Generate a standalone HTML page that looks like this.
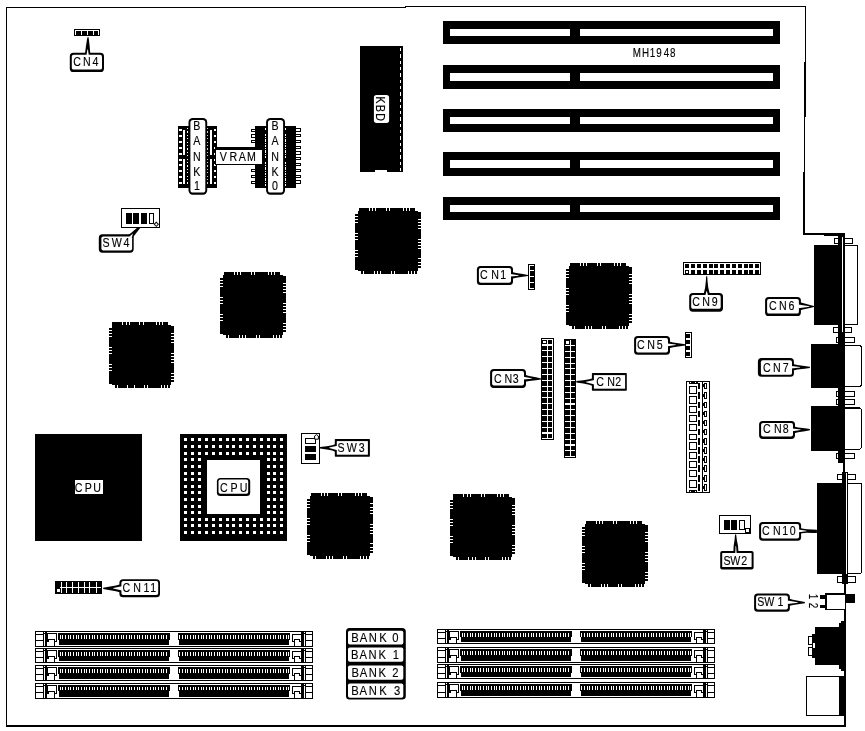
<!DOCTYPE html>
<html lang="en"><head><meta charset="utf-8"><title>MH1948 motherboard layout</title>
<style>html,body{margin:0;padding:0;background:#fff}svg{display:block;will-change:transform}text{font-family:'Liberation Sans', sans-serif;stroke:#000;stroke-width:.14px}.aa{shape-rendering:geometricPrecision}</style>
</head><body>
<svg width="865" height="731" viewBox="0 0 865 731" shape-rendering="crispEdges">
<rect x="0" y="0" width="865" height="731" fill="#fff"/>
<rect x="6" y="7" width="400" height="1.1"/>
<rect x="405" y="6" width="401" height="1.1"/>
<rect x="6" y="7" width="1.3" height="719.9"/>
<rect x="6" y="724.6" width="840.1" height="2.3"/>
<rect x="805" y="6" width="1" height="56"/>
<rect x="804" y="61.8" width="2" height="54.8"/>
<rect x="804" y="116.6" width="1" height="55"/>
<rect x="803" y="171.6" width="2" height="63.2"/>
<rect x="803" y="233.4" width="42" height="1.5"/>
<rect x="824" y="234" width="21" height="2.1"/>
<rect x="443" y="20.8" width="337" height="23.1"/>
<rect x="450" y="28.9" width="120" height="7.3" fill="#fff"/>
<rect x="580" y="28.9" width="193" height="7.3" fill="#fff"/>
<rect x="443" y="65.1" width="337" height="23.5"/>
<rect x="450" y="72.8" width="120" height="8.2" fill="#fff"/>
<rect x="580" y="72.8" width="193" height="8.2" fill="#fff"/>
<rect x="443" y="109.2" width="337" height="23.1"/>
<rect x="450" y="117" width="120" height="7.2" fill="#fff"/>
<rect x="580" y="117" width="193" height="7.2" fill="#fff"/>
<rect x="443" y="152.1" width="337" height="23.7"/>
<rect x="450" y="159.8" width="120" height="7.9" fill="#fff"/>
<rect x="580" y="159.8" width="193" height="7.9" fill="#fff"/>
<rect x="443" y="196.6" width="337" height="23.1"/>
<rect x="450" y="204.9" width="120" height="6.9" fill="#fff"/>
<rect x="580" y="204.9" width="193" height="6.9" fill="#fff"/>
<text transform="translate(636.8 56.8) scale(0.82 1)" x="0 10.73 19.02 27.2 36.22 43.78" font-size="12" text-anchor="middle">MH1948</text>
<rect x="360" y="45.7" width="43.2" height="125.9"/>
<rect x="375" y="169.8" width="12" height="2.2" fill="#fff"/>
<line x1="400.5" y1="48.1" x2="400.5" y2="170.6" stroke="#fff" stroke-width="1.1" stroke-dasharray="3.3 3"/>
<rect x="373.9" y="94.9" width="15.2" height="28" fill="#fff" rx="2.6" class="aa"/>
<text transform="translate(376.1 100.1) rotate(90) scale(0.82 1)" x="0 10.37 20.61" font-size="13" text-anchor="middle">KBD</text>
<g transform="translate(355 207.7)">
<rect x="3.2" y="3.3" width="59.6" height="60"/>
<rect x="3.7" y="0" width="56.2" height="3.4"/>
<rect x="6" y="63.2" width="56.3" height="3.2"/>
<rect x="0" y="6" width="3.3" height="56.2"/>
<rect x="62.7" y="4.3" width="3.3" height="55.7"/>
<rect x="13.8" y="-0.2" width="1" height="3.4" fill="#fff"/>
<rect x="17" y="-0.2" width="1" height="3.4" fill="#fff"/>
<rect x="20.2" y="-0.2" width="1" height="3.4" fill="#fff"/>
<rect x="31.1" y="-0.2" width="1" height="3.4" fill="#fff"/>
<rect x="34.2" y="-0.2" width="1" height="3.4" fill="#fff"/>
<rect x="47.9" y="-0.2" width="1" height="3.4" fill="#fff"/>
<rect x="51" y="-0.2" width="1" height="3.4" fill="#fff"/>
<rect x="54.1" y="-0.2" width="1" height="3.4" fill="#fff"/>
<rect x="8.1" y="63.5" width="1" height="3.1" fill="#fff"/>
<rect x="18.7" y="63.5" width="1" height="3.1" fill="#fff"/>
<rect x="22" y="63.5" width="1" height="3.1" fill="#fff"/>
<rect x="25.1" y="63.5" width="1" height="3.1" fill="#fff"/>
<rect x="36" y="63.5" width="1" height="3.1" fill="#fff"/>
<rect x="39.1" y="63.5" width="1" height="3.1" fill="#fff"/>
<rect x="52.8" y="63.5" width="1" height="3.1" fill="#fff"/>
<rect x="55.9" y="63.5" width="1" height="3.1" fill="#fff"/>
<rect x="59" y="63.5" width="1" height="3.1" fill="#fff"/>
<rect x="-0.2" y="8.4" width="3.2" height="1" fill="#fff"/>
<rect x="-0.2" y="11.4" width="3.2" height="1" fill="#fff"/>
<rect x="-0.2" y="14.5" width="3.2" height="1" fill="#fff"/>
<rect x="-0.2" y="25.2" width="3.2" height="1" fill="#fff"/>
<rect x="-0.2" y="28.3" width="3.2" height="1" fill="#fff"/>
<rect x="-0.2" y="31.4" width="3.2" height="1" fill="#fff"/>
<rect x="-0.2" y="42.2" width="3.2" height="1" fill="#fff"/>
<rect x="-0.2" y="45.3" width="3.2" height="1" fill="#fff"/>
<rect x="-0.2" y="48.4" width="3.2" height="1" fill="#fff"/>
<rect x="63.1" y="10.8" width="3.1" height="1" fill="#fff"/>
<rect x="63.1" y="14" width="3.1" height="1" fill="#fff"/>
<rect x="63.1" y="17" width="3.1" height="1" fill="#fff"/>
<rect x="63.1" y="20.1" width="3.1" height="1" fill="#fff"/>
<rect x="63.1" y="31.1" width="3.1" height="1" fill="#fff"/>
<rect x="63.1" y="34.2" width="3.1" height="1" fill="#fff"/>
<rect x="63.1" y="37.1" width="3.1" height="1" fill="#fff"/>
<rect x="63.1" y="40" width="3.1" height="1" fill="#fff"/>
<rect x="63.1" y="50.8" width="3.1" height="1" fill="#fff"/>
<rect x="63.1" y="53.9" width="3.1" height="1" fill="#fff"/>
<rect x="63.1" y="57" width="3.1" height="1" fill="#fff"/>
</g>
<g transform="translate(219.8 271.7) scale(1.0030 1)">
<rect x="3.2" y="3.3" width="59.6" height="60"/>
<rect x="3.7" y="0" width="56.2" height="3.4"/>
<rect x="6" y="63.2" width="56.3" height="3.2"/>
<rect x="0" y="6" width="3.3" height="56.2"/>
<rect x="62.7" y="4.3" width="3.3" height="55.7"/>
<rect x="13.8" y="-0.2" width="1" height="3.4" fill="#fff"/>
<rect x="17" y="-0.2" width="1" height="3.4" fill="#fff"/>
<rect x="20.2" y="-0.2" width="1" height="3.4" fill="#fff"/>
<rect x="31.1" y="-0.2" width="1" height="3.4" fill="#fff"/>
<rect x="34.2" y="-0.2" width="1" height="3.4" fill="#fff"/>
<rect x="47.9" y="-0.2" width="1" height="3.4" fill="#fff"/>
<rect x="51" y="-0.2" width="1" height="3.4" fill="#fff"/>
<rect x="54.1" y="-0.2" width="1" height="3.4" fill="#fff"/>
<rect x="8.1" y="63.5" width="1" height="3.1" fill="#fff"/>
<rect x="18.7" y="63.5" width="1" height="3.1" fill="#fff"/>
<rect x="22" y="63.5" width="1" height="3.1" fill="#fff"/>
<rect x="25.1" y="63.5" width="1" height="3.1" fill="#fff"/>
<rect x="36" y="63.5" width="1" height="3.1" fill="#fff"/>
<rect x="39.1" y="63.5" width="1" height="3.1" fill="#fff"/>
<rect x="52.8" y="63.5" width="1" height="3.1" fill="#fff"/>
<rect x="55.9" y="63.5" width="1" height="3.1" fill="#fff"/>
<rect x="59" y="63.5" width="1" height="3.1" fill="#fff"/>
<rect x="-0.2" y="8.4" width="3.2" height="1" fill="#fff"/>
<rect x="-0.2" y="11.4" width="3.2" height="1" fill="#fff"/>
<rect x="-0.2" y="14.5" width="3.2" height="1" fill="#fff"/>
<rect x="-0.2" y="25.2" width="3.2" height="1" fill="#fff"/>
<rect x="-0.2" y="28.3" width="3.2" height="1" fill="#fff"/>
<rect x="-0.2" y="31.4" width="3.2" height="1" fill="#fff"/>
<rect x="-0.2" y="42.2" width="3.2" height="1" fill="#fff"/>
<rect x="-0.2" y="45.3" width="3.2" height="1" fill="#fff"/>
<rect x="-0.2" y="48.4" width="3.2" height="1" fill="#fff"/>
<rect x="63.1" y="10.8" width="3.1" height="1" fill="#fff"/>
<rect x="63.1" y="14" width="3.1" height="1" fill="#fff"/>
<rect x="63.1" y="17" width="3.1" height="1" fill="#fff"/>
<rect x="63.1" y="20.1" width="3.1" height="1" fill="#fff"/>
<rect x="63.1" y="31.1" width="3.1" height="1" fill="#fff"/>
<rect x="63.1" y="34.2" width="3.1" height="1" fill="#fff"/>
<rect x="63.1" y="37.1" width="3.1" height="1" fill="#fff"/>
<rect x="63.1" y="40" width="3.1" height="1" fill="#fff"/>
<rect x="63.1" y="50.8" width="3.1" height="1" fill="#fff"/>
<rect x="63.1" y="53.9" width="3.1" height="1" fill="#fff"/>
<rect x="63.1" y="57" width="3.1" height="1" fill="#fff"/>
</g>
<g transform="translate(108.8 321.7) scale(0.9864 1)">
<rect x="3.2" y="3.3" width="59.6" height="60"/>
<rect x="3.7" y="0" width="56.2" height="3.4"/>
<rect x="6" y="63.2" width="56.3" height="3.2"/>
<rect x="0" y="6" width="3.3" height="56.2"/>
<rect x="62.7" y="4.3" width="3.3" height="55.7"/>
<rect x="13.8" y="-0.2" width="1" height="3.4" fill="#fff"/>
<rect x="17" y="-0.2" width="1" height="3.4" fill="#fff"/>
<rect x="20.2" y="-0.2" width="1" height="3.4" fill="#fff"/>
<rect x="31.1" y="-0.2" width="1" height="3.4" fill="#fff"/>
<rect x="34.2" y="-0.2" width="1" height="3.4" fill="#fff"/>
<rect x="47.9" y="-0.2" width="1" height="3.4" fill="#fff"/>
<rect x="51" y="-0.2" width="1" height="3.4" fill="#fff"/>
<rect x="54.1" y="-0.2" width="1" height="3.4" fill="#fff"/>
<rect x="8.1" y="63.5" width="1" height="3.1" fill="#fff"/>
<rect x="18.7" y="63.5" width="1" height="3.1" fill="#fff"/>
<rect x="22" y="63.5" width="1" height="3.1" fill="#fff"/>
<rect x="25.1" y="63.5" width="1" height="3.1" fill="#fff"/>
<rect x="36" y="63.5" width="1" height="3.1" fill="#fff"/>
<rect x="39.1" y="63.5" width="1" height="3.1" fill="#fff"/>
<rect x="52.8" y="63.5" width="1" height="3.1" fill="#fff"/>
<rect x="55.9" y="63.5" width="1" height="3.1" fill="#fff"/>
<rect x="59" y="63.5" width="1" height="3.1" fill="#fff"/>
<rect x="-0.2" y="8.4" width="3.2" height="1" fill="#fff"/>
<rect x="-0.2" y="11.4" width="3.2" height="1" fill="#fff"/>
<rect x="-0.2" y="14.5" width="3.2" height="1" fill="#fff"/>
<rect x="-0.2" y="25.2" width="3.2" height="1" fill="#fff"/>
<rect x="-0.2" y="28.3" width="3.2" height="1" fill="#fff"/>
<rect x="-0.2" y="31.4" width="3.2" height="1" fill="#fff"/>
<rect x="-0.2" y="42.2" width="3.2" height="1" fill="#fff"/>
<rect x="-0.2" y="45.3" width="3.2" height="1" fill="#fff"/>
<rect x="-0.2" y="48.4" width="3.2" height="1" fill="#fff"/>
<rect x="63.1" y="10.8" width="3.1" height="1" fill="#fff"/>
<rect x="63.1" y="14" width="3.1" height="1" fill="#fff"/>
<rect x="63.1" y="17" width="3.1" height="1" fill="#fff"/>
<rect x="63.1" y="20.1" width="3.1" height="1" fill="#fff"/>
<rect x="63.1" y="31.1" width="3.1" height="1" fill="#fff"/>
<rect x="63.1" y="34.2" width="3.1" height="1" fill="#fff"/>
<rect x="63.1" y="37.1" width="3.1" height="1" fill="#fff"/>
<rect x="63.1" y="40" width="3.1" height="1" fill="#fff"/>
<rect x="63.1" y="50.8" width="3.1" height="1" fill="#fff"/>
<rect x="63.1" y="53.9" width="3.1" height="1" fill="#fff"/>
<rect x="63.1" y="57" width="3.1" height="1" fill="#fff"/>
</g>
<g transform="translate(566 262.9)">
<rect x="3.2" y="3.3" width="59.6" height="60"/>
<rect x="3.7" y="0" width="56.2" height="3.4"/>
<rect x="6" y="63.2" width="56.3" height="3.2"/>
<rect x="0" y="6" width="3.3" height="56.2"/>
<rect x="62.7" y="4.3" width="3.3" height="55.7"/>
<rect x="13.8" y="-0.2" width="1" height="3.4" fill="#fff"/>
<rect x="17" y="-0.2" width="1" height="3.4" fill="#fff"/>
<rect x="20.2" y="-0.2" width="1" height="3.4" fill="#fff"/>
<rect x="31.1" y="-0.2" width="1" height="3.4" fill="#fff"/>
<rect x="34.2" y="-0.2" width="1" height="3.4" fill="#fff"/>
<rect x="47.9" y="-0.2" width="1" height="3.4" fill="#fff"/>
<rect x="51" y="-0.2" width="1" height="3.4" fill="#fff"/>
<rect x="54.1" y="-0.2" width="1" height="3.4" fill="#fff"/>
<rect x="8.1" y="63.5" width="1" height="3.1" fill="#fff"/>
<rect x="18.7" y="63.5" width="1" height="3.1" fill="#fff"/>
<rect x="22" y="63.5" width="1" height="3.1" fill="#fff"/>
<rect x="25.1" y="63.5" width="1" height="3.1" fill="#fff"/>
<rect x="36" y="63.5" width="1" height="3.1" fill="#fff"/>
<rect x="39.1" y="63.5" width="1" height="3.1" fill="#fff"/>
<rect x="52.8" y="63.5" width="1" height="3.1" fill="#fff"/>
<rect x="55.9" y="63.5" width="1" height="3.1" fill="#fff"/>
<rect x="59" y="63.5" width="1" height="3.1" fill="#fff"/>
<rect x="-0.2" y="8.4" width="3.2" height="1" fill="#fff"/>
<rect x="-0.2" y="11.4" width="3.2" height="1" fill="#fff"/>
<rect x="-0.2" y="14.5" width="3.2" height="1" fill="#fff"/>
<rect x="-0.2" y="25.2" width="3.2" height="1" fill="#fff"/>
<rect x="-0.2" y="28.3" width="3.2" height="1" fill="#fff"/>
<rect x="-0.2" y="31.4" width="3.2" height="1" fill="#fff"/>
<rect x="-0.2" y="42.2" width="3.2" height="1" fill="#fff"/>
<rect x="-0.2" y="45.3" width="3.2" height="1" fill="#fff"/>
<rect x="-0.2" y="48.4" width="3.2" height="1" fill="#fff"/>
<rect x="63.1" y="10.8" width="3.1" height="1" fill="#fff"/>
<rect x="63.1" y="14" width="3.1" height="1" fill="#fff"/>
<rect x="63.1" y="17" width="3.1" height="1" fill="#fff"/>
<rect x="63.1" y="20.1" width="3.1" height="1" fill="#fff"/>
<rect x="63.1" y="31.1" width="3.1" height="1" fill="#fff"/>
<rect x="63.1" y="34.2" width="3.1" height="1" fill="#fff"/>
<rect x="63.1" y="37.1" width="3.1" height="1" fill="#fff"/>
<rect x="63.1" y="40" width="3.1" height="1" fill="#fff"/>
<rect x="63.1" y="50.8" width="3.1" height="1" fill="#fff"/>
<rect x="63.1" y="53.9" width="3.1" height="1" fill="#fff"/>
<rect x="63.1" y="57" width="3.1" height="1" fill="#fff"/>
</g>
<g transform="translate(306.9 492.6) scale(1.0030 1)">
<rect x="3.2" y="3.3" width="59.6" height="60"/>
<rect x="3.7" y="0" width="56.2" height="3.4"/>
<rect x="6" y="63.2" width="56.3" height="3.2"/>
<rect x="0" y="6" width="3.3" height="56.2"/>
<rect x="62.7" y="4.3" width="3.3" height="55.7"/>
<rect x="13.8" y="-0.2" width="1" height="3.4" fill="#fff"/>
<rect x="17" y="-0.2" width="1" height="3.4" fill="#fff"/>
<rect x="20.2" y="-0.2" width="1" height="3.4" fill="#fff"/>
<rect x="31.1" y="-0.2" width="1" height="3.4" fill="#fff"/>
<rect x="34.2" y="-0.2" width="1" height="3.4" fill="#fff"/>
<rect x="47.9" y="-0.2" width="1" height="3.4" fill="#fff"/>
<rect x="51" y="-0.2" width="1" height="3.4" fill="#fff"/>
<rect x="54.1" y="-0.2" width="1" height="3.4" fill="#fff"/>
<rect x="8.1" y="63.5" width="1" height="3.1" fill="#fff"/>
<rect x="18.7" y="63.5" width="1" height="3.1" fill="#fff"/>
<rect x="22" y="63.5" width="1" height="3.1" fill="#fff"/>
<rect x="25.1" y="63.5" width="1" height="3.1" fill="#fff"/>
<rect x="36" y="63.5" width="1" height="3.1" fill="#fff"/>
<rect x="39.1" y="63.5" width="1" height="3.1" fill="#fff"/>
<rect x="52.8" y="63.5" width="1" height="3.1" fill="#fff"/>
<rect x="55.9" y="63.5" width="1" height="3.1" fill="#fff"/>
<rect x="59" y="63.5" width="1" height="3.1" fill="#fff"/>
<rect x="-0.2" y="8.4" width="3.2" height="1" fill="#fff"/>
<rect x="-0.2" y="11.4" width="3.2" height="1" fill="#fff"/>
<rect x="-0.2" y="14.5" width="3.2" height="1" fill="#fff"/>
<rect x="-0.2" y="25.2" width="3.2" height="1" fill="#fff"/>
<rect x="-0.2" y="28.3" width="3.2" height="1" fill="#fff"/>
<rect x="-0.2" y="31.4" width="3.2" height="1" fill="#fff"/>
<rect x="-0.2" y="42.2" width="3.2" height="1" fill="#fff"/>
<rect x="-0.2" y="45.3" width="3.2" height="1" fill="#fff"/>
<rect x="-0.2" y="48.4" width="3.2" height="1" fill="#fff"/>
<rect x="63.1" y="10.8" width="3.1" height="1" fill="#fff"/>
<rect x="63.1" y="14" width="3.1" height="1" fill="#fff"/>
<rect x="63.1" y="17" width="3.1" height="1" fill="#fff"/>
<rect x="63.1" y="20.1" width="3.1" height="1" fill="#fff"/>
<rect x="63.1" y="31.1" width="3.1" height="1" fill="#fff"/>
<rect x="63.1" y="34.2" width="3.1" height="1" fill="#fff"/>
<rect x="63.1" y="37.1" width="3.1" height="1" fill="#fff"/>
<rect x="63.1" y="40" width="3.1" height="1" fill="#fff"/>
<rect x="63.1" y="50.8" width="3.1" height="1" fill="#fff"/>
<rect x="63.1" y="53.9" width="3.1" height="1" fill="#fff"/>
<rect x="63.1" y="57" width="3.1" height="1" fill="#fff"/>
</g>
<g transform="translate(449.8 493.7) scale(0.9879 1)">
<rect x="3.2" y="3.3" width="59.6" height="60"/>
<rect x="3.7" y="0" width="56.2" height="3.4"/>
<rect x="6" y="63.2" width="56.3" height="3.2"/>
<rect x="0" y="6" width="3.3" height="56.2"/>
<rect x="62.7" y="4.3" width="3.3" height="55.7"/>
<rect x="13.8" y="-0.2" width="1" height="3.4" fill="#fff"/>
<rect x="17" y="-0.2" width="1" height="3.4" fill="#fff"/>
<rect x="20.2" y="-0.2" width="1" height="3.4" fill="#fff"/>
<rect x="31.1" y="-0.2" width="1" height="3.4" fill="#fff"/>
<rect x="34.2" y="-0.2" width="1" height="3.4" fill="#fff"/>
<rect x="47.9" y="-0.2" width="1" height="3.4" fill="#fff"/>
<rect x="51" y="-0.2" width="1" height="3.4" fill="#fff"/>
<rect x="54.1" y="-0.2" width="1" height="3.4" fill="#fff"/>
<rect x="8.1" y="63.5" width="1" height="3.1" fill="#fff"/>
<rect x="18.7" y="63.5" width="1" height="3.1" fill="#fff"/>
<rect x="22" y="63.5" width="1" height="3.1" fill="#fff"/>
<rect x="25.1" y="63.5" width="1" height="3.1" fill="#fff"/>
<rect x="36" y="63.5" width="1" height="3.1" fill="#fff"/>
<rect x="39.1" y="63.5" width="1" height="3.1" fill="#fff"/>
<rect x="52.8" y="63.5" width="1" height="3.1" fill="#fff"/>
<rect x="55.9" y="63.5" width="1" height="3.1" fill="#fff"/>
<rect x="59" y="63.5" width="1" height="3.1" fill="#fff"/>
<rect x="-0.2" y="8.4" width="3.2" height="1" fill="#fff"/>
<rect x="-0.2" y="11.4" width="3.2" height="1" fill="#fff"/>
<rect x="-0.2" y="14.5" width="3.2" height="1" fill="#fff"/>
<rect x="-0.2" y="25.2" width="3.2" height="1" fill="#fff"/>
<rect x="-0.2" y="28.3" width="3.2" height="1" fill="#fff"/>
<rect x="-0.2" y="31.4" width="3.2" height="1" fill="#fff"/>
<rect x="-0.2" y="42.2" width="3.2" height="1" fill="#fff"/>
<rect x="-0.2" y="45.3" width="3.2" height="1" fill="#fff"/>
<rect x="-0.2" y="48.4" width="3.2" height="1" fill="#fff"/>
<rect x="63.1" y="10.8" width="3.1" height="1" fill="#fff"/>
<rect x="63.1" y="14" width="3.1" height="1" fill="#fff"/>
<rect x="63.1" y="17" width="3.1" height="1" fill="#fff"/>
<rect x="63.1" y="20.1" width="3.1" height="1" fill="#fff"/>
<rect x="63.1" y="31.1" width="3.1" height="1" fill="#fff"/>
<rect x="63.1" y="34.2" width="3.1" height="1" fill="#fff"/>
<rect x="63.1" y="37.1" width="3.1" height="1" fill="#fff"/>
<rect x="63.1" y="40" width="3.1" height="1" fill="#fff"/>
<rect x="63.1" y="50.8" width="3.1" height="1" fill="#fff"/>
<rect x="63.1" y="53.9" width="3.1" height="1" fill="#fff"/>
<rect x="63.1" y="57" width="3.1" height="1" fill="#fff"/>
</g>
<g transform="translate(582 520.7) scale(1.0015 1)">
<rect x="3.2" y="3.3" width="59.6" height="60"/>
<rect x="3.7" y="0" width="56.2" height="3.4"/>
<rect x="6" y="63.2" width="56.3" height="3.2"/>
<rect x="0" y="6" width="3.3" height="56.2"/>
<rect x="62.7" y="4.3" width="3.3" height="55.7"/>
<rect x="13.8" y="-0.2" width="1" height="3.4" fill="#fff"/>
<rect x="17" y="-0.2" width="1" height="3.4" fill="#fff"/>
<rect x="20.2" y="-0.2" width="1" height="3.4" fill="#fff"/>
<rect x="31.1" y="-0.2" width="1" height="3.4" fill="#fff"/>
<rect x="34.2" y="-0.2" width="1" height="3.4" fill="#fff"/>
<rect x="47.9" y="-0.2" width="1" height="3.4" fill="#fff"/>
<rect x="51" y="-0.2" width="1" height="3.4" fill="#fff"/>
<rect x="54.1" y="-0.2" width="1" height="3.4" fill="#fff"/>
<rect x="8.1" y="63.5" width="1" height="3.1" fill="#fff"/>
<rect x="18.7" y="63.5" width="1" height="3.1" fill="#fff"/>
<rect x="22" y="63.5" width="1" height="3.1" fill="#fff"/>
<rect x="25.1" y="63.5" width="1" height="3.1" fill="#fff"/>
<rect x="36" y="63.5" width="1" height="3.1" fill="#fff"/>
<rect x="39.1" y="63.5" width="1" height="3.1" fill="#fff"/>
<rect x="52.8" y="63.5" width="1" height="3.1" fill="#fff"/>
<rect x="55.9" y="63.5" width="1" height="3.1" fill="#fff"/>
<rect x="59" y="63.5" width="1" height="3.1" fill="#fff"/>
<rect x="-0.2" y="8.4" width="3.2" height="1" fill="#fff"/>
<rect x="-0.2" y="11.4" width="3.2" height="1" fill="#fff"/>
<rect x="-0.2" y="14.5" width="3.2" height="1" fill="#fff"/>
<rect x="-0.2" y="25.2" width="3.2" height="1" fill="#fff"/>
<rect x="-0.2" y="28.3" width="3.2" height="1" fill="#fff"/>
<rect x="-0.2" y="31.4" width="3.2" height="1" fill="#fff"/>
<rect x="-0.2" y="42.2" width="3.2" height="1" fill="#fff"/>
<rect x="-0.2" y="45.3" width="3.2" height="1" fill="#fff"/>
<rect x="-0.2" y="48.4" width="3.2" height="1" fill="#fff"/>
<rect x="63.1" y="10.8" width="3.1" height="1" fill="#fff"/>
<rect x="63.1" y="14" width="3.1" height="1" fill="#fff"/>
<rect x="63.1" y="17" width="3.1" height="1" fill="#fff"/>
<rect x="63.1" y="20.1" width="3.1" height="1" fill="#fff"/>
<rect x="63.1" y="31.1" width="3.1" height="1" fill="#fff"/>
<rect x="63.1" y="34.2" width="3.1" height="1" fill="#fff"/>
<rect x="63.1" y="37.1" width="3.1" height="1" fill="#fff"/>
<rect x="63.1" y="40" width="3.1" height="1" fill="#fff"/>
<rect x="63.1" y="50.8" width="3.1" height="1" fill="#fff"/>
<rect x="63.1" y="53.9" width="3.1" height="1" fill="#fff"/>
<rect x="63.1" y="57" width="3.1" height="1" fill="#fff"/>
</g>
<rect x="35" y="433.8" width="106.8" height="106.7"/>
<rect x="74.9" y="479.8" width="28.1" height="14.3" fill="#fff"/>
<text transform="translate(78.6 491.8) scale(0.82 1)" x="0 11.71 22.56" font-size="13" text-anchor="middle">CPU</text>
<rect x="179.8" y="434.1" width="107.4" height="106.8"/>
<rect x="207" y="460" width="53" height="53.8" fill="#fff"/>
<rect x="184" y="438" width="3" height="3" fill="#fff"/>
<rect x="191" y="438" width="3" height="3" fill="#fff"/>
<rect x="198" y="438" width="3" height="3" fill="#fff"/>
<rect x="205" y="438" width="3" height="3" fill="#fff"/>
<rect x="212" y="438" width="3" height="3" fill="#fff"/>
<rect x="219" y="438" width="3" height="3" fill="#fff"/>
<rect x="226" y="438" width="3" height="3" fill="#fff"/>
<rect x="232" y="438" width="3" height="3" fill="#fff"/>
<rect x="239" y="438" width="3" height="3" fill="#fff"/>
<rect x="246" y="438" width="3" height="3" fill="#fff"/>
<rect x="253" y="438" width="3" height="3" fill="#fff"/>
<rect x="260" y="438" width="3" height="3" fill="#fff"/>
<rect x="267" y="438" width="3" height="3" fill="#fff"/>
<rect x="273" y="438" width="3" height="3" fill="#fff"/>
<rect x="280" y="438" width="3" height="3" fill="#fff"/>
<rect x="184" y="445" width="3" height="3" fill="#fff"/>
<rect x="191" y="445" width="3" height="3" fill="#fff"/>
<rect x="198" y="445" width="3" height="3" fill="#fff"/>
<rect x="205" y="445" width="3" height="3" fill="#fff"/>
<rect x="212" y="445" width="3" height="3" fill="#fff"/>
<rect x="219" y="445" width="3" height="3" fill="#fff"/>
<rect x="226" y="445" width="3" height="3" fill="#fff"/>
<rect x="232" y="445" width="3" height="3" fill="#fff"/>
<rect x="239" y="445" width="3" height="3" fill="#fff"/>
<rect x="246" y="445" width="3" height="3" fill="#fff"/>
<rect x="253" y="445" width="3" height="3" fill="#fff"/>
<rect x="260" y="445" width="3" height="3" fill="#fff"/>
<rect x="267" y="445" width="3" height="3" fill="#fff"/>
<rect x="273" y="445" width="3" height="3" fill="#fff"/>
<rect x="280" y="445" width="3" height="3" fill="#fff"/>
<rect x="184" y="452" width="3" height="3" fill="#fff"/>
<rect x="191" y="452" width="3" height="3" fill="#fff"/>
<rect x="198" y="452" width="3" height="3" fill="#fff"/>
<rect x="205" y="452" width="3" height="3" fill="#fff"/>
<rect x="212" y="452" width="3" height="3" fill="#fff"/>
<rect x="219" y="452" width="3" height="3" fill="#fff"/>
<rect x="226" y="452" width="3" height="3" fill="#fff"/>
<rect x="232" y="452" width="3" height="3" fill="#fff"/>
<rect x="239" y="452" width="3" height="3" fill="#fff"/>
<rect x="246" y="452" width="3" height="3" fill="#fff"/>
<rect x="253" y="452" width="3" height="3" fill="#fff"/>
<rect x="260" y="452" width="3" height="3" fill="#fff"/>
<rect x="267" y="452" width="3" height="3" fill="#fff"/>
<rect x="273" y="452" width="3" height="3" fill="#fff"/>
<rect x="280" y="452" width="3" height="3" fill="#fff"/>
<rect x="184" y="458" width="3" height="3" fill="#fff"/>
<rect x="191" y="458" width="3" height="3" fill="#fff"/>
<rect x="198" y="458" width="3" height="3" fill="#fff"/>
<rect x="267" y="458" width="3" height="3" fill="#fff"/>
<rect x="273" y="458" width="3" height="3" fill="#fff"/>
<rect x="280" y="458" width="3" height="3" fill="#fff"/>
<rect x="184" y="465" width="3" height="3" fill="#fff"/>
<rect x="191" y="465" width="3" height="3" fill="#fff"/>
<rect x="198" y="465" width="3" height="3" fill="#fff"/>
<rect x="267" y="465" width="3" height="3" fill="#fff"/>
<rect x="273" y="465" width="3" height="3" fill="#fff"/>
<rect x="280" y="465" width="3" height="3" fill="#fff"/>
<rect x="184" y="472" width="3" height="3" fill="#fff"/>
<rect x="191" y="472" width="3" height="3" fill="#fff"/>
<rect x="198" y="472" width="3" height="3" fill="#fff"/>
<rect x="267" y="472" width="3" height="3" fill="#fff"/>
<rect x="273" y="472" width="3" height="3" fill="#fff"/>
<rect x="280" y="472" width="3" height="3" fill="#fff"/>
<rect x="184" y="478" width="3" height="3" fill="#fff"/>
<rect x="191" y="478" width="3" height="3" fill="#fff"/>
<rect x="198" y="478" width="3" height="3" fill="#fff"/>
<rect x="267" y="478" width="3" height="3" fill="#fff"/>
<rect x="273" y="478" width="3" height="3" fill="#fff"/>
<rect x="280" y="478" width="3" height="3" fill="#fff"/>
<rect x="184" y="485" width="3" height="3" fill="#fff"/>
<rect x="191" y="485" width="3" height="3" fill="#fff"/>
<rect x="198" y="485" width="3" height="3" fill="#fff"/>
<rect x="267" y="485" width="3" height="3" fill="#fff"/>
<rect x="273" y="485" width="3" height="3" fill="#fff"/>
<rect x="280" y="485" width="3" height="3" fill="#fff"/>
<rect x="184" y="491" width="3" height="3" fill="#fff"/>
<rect x="191" y="491" width="3" height="3" fill="#fff"/>
<rect x="198" y="491" width="3" height="3" fill="#fff"/>
<rect x="267" y="491" width="3" height="3" fill="#fff"/>
<rect x="273" y="491" width="3" height="3" fill="#fff"/>
<rect x="280" y="491" width="3" height="3" fill="#fff"/>
<rect x="184" y="498" width="3" height="3" fill="#fff"/>
<rect x="191" y="498" width="3" height="3" fill="#fff"/>
<rect x="198" y="498" width="3" height="3" fill="#fff"/>
<rect x="267" y="498" width="3" height="3" fill="#fff"/>
<rect x="273" y="498" width="3" height="3" fill="#fff"/>
<rect x="280" y="498" width="3" height="3" fill="#fff"/>
<rect x="184" y="505" width="3" height="3" fill="#fff"/>
<rect x="191" y="505" width="3" height="3" fill="#fff"/>
<rect x="198" y="505" width="3" height="3" fill="#fff"/>
<rect x="267" y="505" width="3" height="3" fill="#fff"/>
<rect x="273" y="505" width="3" height="3" fill="#fff"/>
<rect x="280" y="505" width="3" height="3" fill="#fff"/>
<rect x="184" y="511" width="3" height="3" fill="#fff"/>
<rect x="191" y="511" width="3" height="3" fill="#fff"/>
<rect x="198" y="511" width="3" height="3" fill="#fff"/>
<rect x="267" y="511" width="3" height="3" fill="#fff"/>
<rect x="273" y="511" width="3" height="3" fill="#fff"/>
<rect x="280" y="511" width="3" height="3" fill="#fff"/>
<rect x="184" y="518" width="3" height="3" fill="#fff"/>
<rect x="191" y="518" width="3" height="3" fill="#fff"/>
<rect x="198" y="518" width="3" height="3" fill="#fff"/>
<rect x="205" y="518" width="3" height="3" fill="#fff"/>
<rect x="212" y="518" width="3" height="3" fill="#fff"/>
<rect x="219" y="518" width="3" height="3" fill="#fff"/>
<rect x="226" y="518" width="3" height="3" fill="#fff"/>
<rect x="232" y="518" width="3" height="3" fill="#fff"/>
<rect x="239" y="518" width="3" height="3" fill="#fff"/>
<rect x="246" y="518" width="3" height="3" fill="#fff"/>
<rect x="253" y="518" width="3" height="3" fill="#fff"/>
<rect x="260" y="518" width="3" height="3" fill="#fff"/>
<rect x="267" y="518" width="3" height="3" fill="#fff"/>
<rect x="273" y="518" width="3" height="3" fill="#fff"/>
<rect x="280" y="518" width="3" height="3" fill="#fff"/>
<rect x="184" y="524" width="3" height="3" fill="#fff"/>
<rect x="191" y="524" width="3" height="3" fill="#fff"/>
<rect x="198" y="524" width="3" height="3" fill="#fff"/>
<rect x="205" y="524" width="3" height="3" fill="#fff"/>
<rect x="212" y="524" width="3" height="3" fill="#fff"/>
<rect x="219" y="524" width="3" height="3" fill="#fff"/>
<rect x="226" y="524" width="3" height="3" fill="#fff"/>
<rect x="232" y="524" width="3" height="3" fill="#fff"/>
<rect x="239" y="524" width="3" height="3" fill="#fff"/>
<rect x="246" y="524" width="3" height="3" fill="#fff"/>
<rect x="253" y="524" width="3" height="3" fill="#fff"/>
<rect x="260" y="524" width="3" height="3" fill="#fff"/>
<rect x="267" y="524" width="3" height="3" fill="#fff"/>
<rect x="273" y="524" width="3" height="3" fill="#fff"/>
<rect x="280" y="524" width="3" height="3" fill="#fff"/>
<rect x="184" y="531" width="3" height="3" fill="#fff"/>
<rect x="191" y="531" width="3" height="3" fill="#fff"/>
<rect x="198" y="531" width="3" height="3" fill="#fff"/>
<rect x="205" y="531" width="3" height="3" fill="#fff"/>
<rect x="212" y="531" width="3" height="3" fill="#fff"/>
<rect x="219" y="531" width="3" height="3" fill="#fff"/>
<rect x="226" y="531" width="3" height="3" fill="#fff"/>
<rect x="232" y="531" width="3" height="3" fill="#fff"/>
<rect x="239" y="531" width="3" height="3" fill="#fff"/>
<rect x="246" y="531" width="3" height="3" fill="#fff"/>
<rect x="253" y="531" width="3" height="3" fill="#fff"/>
<rect x="260" y="531" width="3" height="3" fill="#fff"/>
<rect x="267" y="531" width="3" height="3" fill="#fff"/>
<rect x="273" y="531" width="3" height="3" fill="#fff"/>
<rect x="280" y="531" width="3" height="3" fill="#fff"/>
<rect x="216.9" y="478" width="33.3" height="18.1" rx="3.6" class="aa"/>
<rect x="218.5" y="479.6" width="29.7" height="14.1" fill="#fff" rx="1.9" class="aa"/>
<text transform="translate(223.9 491.7) scale(0.82 1)" x="0 12.44 23.9" font-size="13" text-anchor="middle">CPU</text>
<rect x="177.9" y="125.9" width="39.3" height="61.9"/>
<rect x="179.2" y="129" width="2.6" height="2" fill="#fff"/>
<rect x="213.6" y="129" width="2.6" height="2" fill="#fff"/>
<rect x="179.2" y="134.9" width="2.6" height="2" fill="#fff"/>
<rect x="213.6" y="134.9" width="2.6" height="2" fill="#fff"/>
<rect x="179.2" y="140.8" width="2.6" height="2" fill="#fff"/>
<rect x="213.6" y="140.8" width="2.6" height="2" fill="#fff"/>
<rect x="179.2" y="146.7" width="2.6" height="2" fill="#fff"/>
<rect x="213.6" y="146.7" width="2.6" height="2" fill="#fff"/>
<rect x="179.2" y="152.6" width="2.6" height="2" fill="#fff"/>
<rect x="213.6" y="152.6" width="2.6" height="2" fill="#fff"/>
<rect x="179.2" y="158.5" width="2.6" height="2" fill="#fff"/>
<rect x="213.6" y="158.5" width="2.6" height="2" fill="#fff"/>
<rect x="179.2" y="164.4" width="2.6" height="2" fill="#fff"/>
<rect x="213.6" y="164.4" width="2.6" height="2" fill="#fff"/>
<rect x="179.2" y="170.3" width="2.6" height="2" fill="#fff"/>
<rect x="213.6" y="170.3" width="2.6" height="2" fill="#fff"/>
<rect x="179.2" y="176.2" width="2.6" height="2" fill="#fff"/>
<rect x="213.6" y="176.2" width="2.6" height="2" fill="#fff"/>
<rect x="179.2" y="182.1" width="2.6" height="2" fill="#fff"/>
<rect x="213.6" y="182.1" width="2.6" height="2" fill="#fff"/>
<rect x="183" y="129.5" width="2" height="25.5" fill="#fff"/>
<rect x="183" y="158.5" width="2" height="25.5" fill="#fff"/>
<rect x="209.6" y="129.5" width="1.9" height="25.5" fill="#fff"/>
<rect x="209.6" y="158.5" width="1.9" height="25.5" fill="#fff"/>
<line x1="187.3" y1="128" x2="187.3" y2="186" stroke="#fff" stroke-width="1" stroke-dasharray="1.2 2.2"/>
<line x1="207.7" y1="128" x2="207.7" y2="186" stroke="#fff" stroke-width="1" stroke-dasharray="1.2 2.2"/>
<rect x="255.1" y="125.9" width="40.8" height="61.9"/>
<rect x="295" y="128.3" width="6.2" height="3.2"/>
<rect x="296" y="129.3" width="4.2" height="1.2" fill="#fff"/>
<rect x="250.9" y="128.7" width="5.1" height="3.2"/>
<rect x="251.9" y="129.7" width="3.1" height="1.2" fill="#fff"/>
<rect x="295" y="134.08" width="6.2" height="3.2"/>
<rect x="296" y="135.08" width="4.2" height="1.2" fill="#fff"/>
<rect x="250.9" y="134.48" width="5.1" height="3.2"/>
<rect x="251.9" y="135.48" width="3.1" height="1.2" fill="#fff"/>
<rect x="295" y="139.86" width="6.2" height="3.2"/>
<rect x="296" y="140.86" width="4.2" height="1.2" fill="#fff"/>
<rect x="250.9" y="140.26" width="5.1" height="3.2"/>
<rect x="251.9" y="141.26" width="3.1" height="1.2" fill="#fff"/>
<rect x="295" y="145.64" width="6.2" height="3.2"/>
<rect x="296" y="146.64" width="4.2" height="1.2" fill="#fff"/>
<rect x="295" y="151.42" width="6.2" height="3.2"/>
<rect x="296" y="152.42" width="4.2" height="1.2" fill="#fff"/>
<rect x="295" y="157.2" width="6.2" height="3.2"/>
<rect x="296" y="158.2" width="4.2" height="1.2" fill="#fff"/>
<rect x="295" y="162.98" width="6.2" height="3.2"/>
<rect x="296" y="163.98" width="4.2" height="1.2" fill="#fff"/>
<rect x="295" y="168.76" width="6.2" height="3.2"/>
<rect x="296" y="169.76" width="4.2" height="1.2" fill="#fff"/>
<rect x="250.9" y="169.16" width="5.1" height="3.2"/>
<rect x="251.9" y="170.16" width="3.1" height="1.2" fill="#fff"/>
<rect x="295" y="174.54" width="6.2" height="3.2"/>
<rect x="296" y="175.54" width="4.2" height="1.2" fill="#fff"/>
<rect x="250.9" y="174.94" width="5.1" height="3.2"/>
<rect x="251.9" y="175.94" width="3.1" height="1.2" fill="#fff"/>
<rect x="295" y="180.32" width="6.2" height="3.2"/>
<rect x="296" y="181.32" width="4.2" height="1.2" fill="#fff"/>
<rect x="250.9" y="180.72" width="5.1" height="3.2"/>
<rect x="251.9" y="181.72" width="3.1" height="1.2" fill="#fff"/>
<line x1="265.5" y1="128" x2="265.5" y2="186" stroke="#fff" stroke-width="1" stroke-dasharray="2.4 1.2 0.8 1.2"/>
<line x1="285.7" y1="128" x2="285.7" y2="186" stroke="#fff" stroke-width="1" stroke-dasharray="2.4 1.2 0.8 1.2"/>
<rect x="215.2" y="147.4" width="47.6" height="17.9"/>
<rect x="216.4" y="150" width="45.2" height="13.5" fill="#fff"/>
<text transform="translate(223.4 160.8) scale(0.82 1)" x="0 12.07 23.05 34.15" font-size="13" text-anchor="middle">VRAM</text>
<rect x="188.5" y="118.1" width="18.7" height="76.6" rx="4.2" class="aa"/>
<rect x="190.4" y="120" width="14.9" height="72.6" fill="#fff" rx="2.6" class="aa"/>
<text x="0 0 0 0 0" y="130.3 145.3 160.7 175.7 190.5" font-size="13" text-anchor="middle" transform="translate(196.9 0) scale(0.82 1)">BANK1</text>
<rect x="266.1" y="118.1" width="18.9" height="76.6" rx="4.2" class="aa"/>
<rect x="268" y="120" width="15.1" height="72.6" fill="#fff" rx="2.6" class="aa"/>
<text x="0 0 0 0 0" y="130.3 145.3 160.7 175.7 190.5" font-size="13" text-anchor="middle" transform="translate(275 0) scale(0.82 1)">BANK0</text>
<rect x="73.9" y="28.9" width="26.3" height="7"/>
<rect x="74.9" y="29.9" width="24.3" height="5" fill="#fff"/>
<rect x="76.3" y="31" width="4.2" height="4.2"/>
<rect x="82.3" y="31" width="4.2" height="4.2"/>
<rect x="88.3" y="31" width="4.2" height="4.2"/>
<rect x="94.1" y="31" width="4.2" height="4.2"/>
<polygon class="aa" points="84.1,54.8 85.16,52.16 86.01,45.65 86.88,40.19 87.45,37.2 88.55,37.2 88.98,40.19 89.61,45.65 90.16,52.16 91.1,54.8"/>
<rect x="69.8" y="52.8" width="34.2" height="19.2" rx="3.6" class="aa"/>
<rect x="71.8" y="54.8" width="30.2" height="14.8" fill="#fff" rx="1.9" class="aa"/>
<polygon class="aa" fill="#fff" points="86.4,55.4 87.47,49.52 87.97,49.52 88.8,55.4"/>
<text transform="translate(77.2 65.8) scale(0.82 1)" x="0 11.71 22.2" font-size="13" text-anchor="middle">CN4</text>
<rect x="121" y="208" width="39" height="19.9"/>
<rect x="122" y="209" width="37" height="17.9" fill="#fff"/>
<rect x="125.9" y="213.2" width="5.7" height="10.8"/>
<rect x="133" y="213.2" width="5.9" height="10.8"/>
<rect x="141" y="213.2" width="6" height="10.8"/>
<rect x="148.5" y="213.2" width="5.3" height="10.8"/>
<rect x="149.5" y="214.2" width="3.3" height="8.8" fill="#fff"/>
<polygon points="156.3,221.6 159,224.3 156.3,227 153.6,224.3" class="aa"/>
<polygon points="156.3,222.9 157.7,224.3 156.3,225.7 154.9,224.3" fill="#fff" class="aa"/>
<polygon points="126.5,236.3 131,233 136.8,227.9 140.2,227.9 133.6,236.6 132.6,240" class="aa"/>
<rect x="98.8" y="234.3" width="34.9" height="18.4" rx="3.6" class="aa"/>
<rect x="101.4" y="236.4" width="30.7" height="14.1" fill="#fff" rx="1.9" class="aa"/>
<text transform="translate(106.1 246.8) scale(0.82 1)" x="0 12.93 24.88" font-size="13" text-anchor="middle">SW4</text>
<polygon points="129.3,236.7 132.9,233.6 132,236.9" fill="#fff" class="aa"/>
<rect x="301" y="433.1" width="19" height="30.8"/>
<rect x="302" y="434.1" width="17" height="28.8" fill="#fff"/>
<rect x="305" y="438" width="11.2" height="6.3"/>
<rect x="306" y="439" width="9.2" height="4.3" fill="#fff"/>
<rect x="305" y="446" width="11.2" height="5.7"/>
<rect x="305" y="454.1" width="11.2" height="5.9"/>
<path d="M314.6 439.2 V436 Q316.5 433.2 318.4 436 V439.2 Z" fill="#fff" stroke="#000" stroke-width="1" class="aa"/>
<polygon class="aa" points="336.8,442.8 335.79,444.08 332.26,445.22 326.72,446.22 320,447 320,448.4 326.72,449.42 332.26,450.62 335.79,451.88 336.8,453.2"/>
<rect x="334.8" y="439.1" width="35.1" height="17.6" rx="0.6" class="aa"/>
<rect x="336.8" y="441.1" width="31.1" height="13.6" fill="#fff" class="aa"/>
<polygon class="aa" fill="#fff" points="337.4,445.7 329.24,447.62 329.24,448.12 337.4,450.3"/>
<text transform="translate(341 451.6) scale(0.82 1)" x="0 13.29 25.24" font-size="13" text-anchor="middle">SW3</text>
<rect x="55.2" y="580.8" width="46.9" height="13.2"/>
<rect x="60" y="587.25" width="40.8" height="1.1" fill="#fff"/>
<rect x="60.65" y="582.3" width="1.1" height="10.5" fill="#fff"/>
<rect x="66.35" y="582.3" width="1.1" height="10.5" fill="#fff"/>
<rect x="72.05" y="582.3" width="1.1" height="10.5" fill="#fff"/>
<rect x="77.85" y="582.3" width="1.1" height="10.5" fill="#fff"/>
<rect x="83.55" y="582.3" width="1.1" height="10.5" fill="#fff"/>
<rect x="89.35" y="582.3" width="1.1" height="10.5" fill="#fff"/>
<rect x="95.55" y="582.3" width="1.1" height="10.5" fill="#fff"/>
<rect x="57.4" y="589" width="2.2" height="3" fill="#fff"/>
<polygon class="aa" points="121.4,583.9 115.94,585.4 108.66,586.63 103.2,587.7 103.2,588.9 108.66,589.97 115.94,591.2 121.4,592.7"/>
<rect x="119.4" y="579.3" width="40.6" height="18" rx="3.6" class="aa"/>
<rect x="121.4" y="581.1" width="36.8" height="13.8" fill="#fff" rx="1.9" class="aa"/>
<polygon class="aa" fill="#fff" points="122,586.2 113.21,588.05 113.21,588.55 122,590.4"/>
<text transform="translate(126.3 591.9) scale(0.82 1)" x="0 13.05 24.51 32.8" font-size="13" text-anchor="middle">CN11</text>
<rect x="346" y="628" width="59.8" height="71.6" rx="3.6" class="aa"/>
<rect x="348" y="630.7" width="55.3" height="13.8" fill="#fff" rx="1.8" class="aa"/>
<text transform="translate(355.1 642) scale(0.82 1)" x="0 10.24 21.71 34.02 41.95 49.15" font-size="13.7" text-anchor="middle">BANK 0</text>
<rect x="348" y="647.4" width="55.3" height="14.4" fill="#fff" rx="1.8" class="aa"/>
<text transform="translate(354.8 658.9) scale(0.82 1)" x="0 10.37 21.71 33.41 42.32 50.12" font-size="13.7" text-anchor="middle">BANK 1</text>
<rect x="348" y="665.5" width="55.3" height="14.3" fill="#fff" rx="1.8" class="aa"/>
<text transform="translate(355.2 676.7) scale(0.82 1)" x="0 10.12 21.46 33.05 41.83 49.15" font-size="13.7" text-anchor="middle">BANK 2</text>
<rect x="348" y="683.4" width="55.3" height="14.3" fill="#fff" rx="1.8" class="aa"/>
<text transform="translate(355 694.8) scale(0.82 1)" x="0 10.12 21.71 34.15 42.68 51.34" font-size="13.7" text-anchor="middle">BANK 3</text>
<g>
<rect x="35" y="631.1" width="278" height="15.8"/>
<rect x="36" y="632.1" width="276" height="13.8" fill="#fff"/>
<rect x="42.9" y="631.1" width="1" height="15.8"/>
<rect x="35" y="633.9" width="8.4" height="1"/>
<rect x="35" y="640.4" width="8.4" height="1"/>
<rect x="45.2" y="631.1" width="1.9" height="15.8"/>
<rect x="43.9" y="633" width="1.3" height="1"/>
<rect x="47" y="633" width="10" height="1"/>
<rect x="47" y="633" width="1" height="8.8"/>
<rect x="56" y="633" width="1" height="8.8"/>
<rect x="54.9" y="640.9" width="2.1" height="0.9"/>
<rect x="48" y="639.1" width="6.9" height="1.1"/>
<rect x="48" y="639.1" width="0.9" height="2.7"/>
<rect x="54" y="639.1" width="0.9" height="7.8"/>
<rect x="305.2" y="631.1" width="1" height="15.8"/>
<rect x="305.6" y="633.9" width="7.4" height="1"/>
<rect x="305.6" y="640.4" width="7.4" height="1"/>
<rect x="301.3" y="631.1" width="2.5" height="15.8"/>
<rect x="303.8" y="633" width="1.4" height="1"/>
<rect x="292.1" y="634" width="9.9" height="1"/>
<rect x="292.1" y="634" width="1" height="7.8"/>
<rect x="292.1" y="640.9" width="2.9" height="0.9"/>
<rect x="294.1" y="639.1" width="6" height="1.1"/>
<rect x="294.1" y="639.1" width="0.9" height="7.8"/>
<rect x="299.2" y="639.1" width="0.9" height="2.7"/>
<rect x="299.2" y="640.9" width="2.8" height="0.9"/>
<rect x="58.1" y="633" width="112" height="6.6"/>
<rect x="59.05" y="639.1" width="109.95" height="5.7"/>
<line x1="59.6" y1="636.8" x2="169.1" y2="636.8" stroke="#fff" stroke-width="3.8" stroke-dasharray="1 1.66"/>
<rect x="177.9" y="633" width="111.8" height="6.6"/>
<rect x="179" y="639.1" width="109.8" height="5.7"/>
<line x1="179.4" y1="636.8" x2="288.7" y2="636.8" stroke="#fff" stroke-width="3.8" stroke-dasharray="1 1.66"/>
</g>
<g>
<rect x="35" y="648" width="278" height="15.3"/>
<rect x="36" y="649" width="276" height="13.3" fill="#fff"/>
<rect x="42.9" y="648" width="1" height="15.3"/>
<rect x="35" y="650.8" width="8.4" height="1"/>
<rect x="35" y="657.3" width="8.4" height="1"/>
<rect x="45.2" y="648" width="1.9" height="15.3"/>
<rect x="43.9" y="649.9" width="1.3" height="1"/>
<rect x="47" y="649.9" width="10" height="1"/>
<rect x="47" y="649.9" width="1" height="8.8"/>
<rect x="56" y="649.9" width="1" height="8.8"/>
<rect x="54.9" y="657.8" width="2.1" height="0.9"/>
<rect x="48" y="656" width="6.9" height="1.1"/>
<rect x="48" y="656" width="0.9" height="2.7"/>
<rect x="54" y="656" width="0.9" height="7.3"/>
<rect x="305.2" y="648" width="1" height="15.3"/>
<rect x="305.6" y="650.8" width="7.4" height="1"/>
<rect x="305.6" y="657.3" width="7.4" height="1"/>
<rect x="301.3" y="648" width="2.5" height="15.3"/>
<rect x="303.8" y="649.9" width="1.4" height="1"/>
<rect x="292.1" y="650.9" width="9.9" height="1"/>
<rect x="292.1" y="650.9" width="1" height="7.8"/>
<rect x="292.1" y="657.8" width="2.9" height="0.9"/>
<rect x="294.1" y="656" width="6" height="1.1"/>
<rect x="294.1" y="656" width="0.9" height="7.3"/>
<rect x="299.2" y="656" width="0.9" height="2.7"/>
<rect x="299.2" y="657.8" width="2.8" height="0.9"/>
<rect x="58.1" y="649.9" width="112" height="6.6"/>
<rect x="59.05" y="656" width="109.95" height="5.2"/>
<line x1="59.6" y1="653.7" x2="169.1" y2="653.7" stroke="#fff" stroke-width="3.8" stroke-dasharray="1 1.66"/>
<rect x="177.9" y="649.9" width="111.8" height="6.6"/>
<rect x="179" y="656" width="109.8" height="5.2"/>
<line x1="179.4" y1="653.7" x2="288.7" y2="653.7" stroke="#fff" stroke-width="3.8" stroke-dasharray="1 1.66"/>
</g>
<g>
<rect x="35" y="665" width="278" height="15.8"/>
<rect x="36" y="666" width="276" height="13.8" fill="#fff"/>
<rect x="42.9" y="665" width="1" height="15.8"/>
<rect x="35" y="667.8" width="8.4" height="1"/>
<rect x="35" y="674.3" width="8.4" height="1"/>
<rect x="45.2" y="665" width="1.9" height="15.8"/>
<rect x="43.9" y="666.9" width="1.3" height="1"/>
<rect x="47" y="666.9" width="10" height="1"/>
<rect x="47" y="666.9" width="1" height="8.8"/>
<rect x="56" y="666.9" width="1" height="8.8"/>
<rect x="54.9" y="674.8" width="2.1" height="0.9"/>
<rect x="48" y="673" width="6.9" height="1.1"/>
<rect x="48" y="673" width="0.9" height="2.7"/>
<rect x="54" y="673" width="0.9" height="7.8"/>
<rect x="305.2" y="665" width="1" height="15.8"/>
<rect x="305.6" y="667.8" width="7.4" height="1"/>
<rect x="305.6" y="674.3" width="7.4" height="1"/>
<rect x="301.3" y="665" width="2.5" height="15.8"/>
<rect x="303.8" y="666.9" width="1.4" height="1"/>
<rect x="292.1" y="667.9" width="9.9" height="1"/>
<rect x="292.1" y="667.9" width="1" height="7.8"/>
<rect x="292.1" y="674.8" width="2.9" height="0.9"/>
<rect x="294.1" y="673" width="6" height="1.1"/>
<rect x="294.1" y="673" width="0.9" height="7.8"/>
<rect x="299.2" y="673" width="0.9" height="2.7"/>
<rect x="299.2" y="674.8" width="2.8" height="0.9"/>
<rect x="58.1" y="666.9" width="112" height="6.6"/>
<rect x="59.05" y="673" width="109.95" height="5.7"/>
<line x1="59.6" y1="670.7" x2="169.1" y2="670.7" stroke="#fff" stroke-width="3.8" stroke-dasharray="1 1.66"/>
<rect x="177.9" y="666.9" width="111.8" height="6.6"/>
<rect x="179" y="673" width="109.8" height="5.7"/>
<line x1="179.4" y1="670.7" x2="288.7" y2="670.7" stroke="#fff" stroke-width="3.8" stroke-dasharray="1 1.66"/>
</g>
<g>
<rect x="35" y="682.8" width="278" height="15.8"/>
<rect x="36" y="683.8" width="276" height="13.8" fill="#fff"/>
<rect x="42.9" y="682.8" width="1" height="15.8"/>
<rect x="35" y="685.6" width="8.4" height="1"/>
<rect x="35" y="692.1" width="8.4" height="1"/>
<rect x="45.2" y="682.8" width="1.9" height="15.8"/>
<rect x="43.9" y="684.7" width="1.3" height="1"/>
<rect x="47" y="684.7" width="10" height="1"/>
<rect x="47" y="684.7" width="1" height="8.8"/>
<rect x="56" y="684.7" width="1" height="8.8"/>
<rect x="54.9" y="692.6" width="2.1" height="0.9"/>
<rect x="48" y="690.8" width="6.9" height="1.1"/>
<rect x="48" y="690.8" width="0.9" height="2.7"/>
<rect x="54" y="690.8" width="0.9" height="7.8"/>
<rect x="305.2" y="682.8" width="1" height="15.8"/>
<rect x="305.6" y="685.6" width="7.4" height="1"/>
<rect x="305.6" y="692.1" width="7.4" height="1"/>
<rect x="301.3" y="682.8" width="2.5" height="15.8"/>
<rect x="303.8" y="684.7" width="1.4" height="1"/>
<rect x="292.1" y="685.7" width="9.9" height="1"/>
<rect x="292.1" y="685.7" width="1" height="7.8"/>
<rect x="292.1" y="692.6" width="2.9" height="0.9"/>
<rect x="294.1" y="690.8" width="6" height="1.1"/>
<rect x="294.1" y="690.8" width="0.9" height="7.8"/>
<rect x="299.2" y="690.8" width="0.9" height="2.7"/>
<rect x="299.2" y="692.6" width="2.8" height="0.9"/>
<rect x="58.1" y="684.7" width="112" height="6.6"/>
<rect x="59.05" y="690.8" width="109.95" height="5.7"/>
<line x1="59.6" y1="688.5" x2="169.1" y2="688.5" stroke="#fff" stroke-width="3.8" stroke-dasharray="1 1.66"/>
<rect x="177.9" y="684.7" width="111.8" height="6.6"/>
<rect x="179" y="690.8" width="109.8" height="5.7"/>
<line x1="179.4" y1="688.5" x2="288.7" y2="688.5" stroke="#fff" stroke-width="3.8" stroke-dasharray="1 1.66"/>
</g>
<g>
<rect x="437" y="628.9" width="278" height="14.9"/>
<rect x="438" y="629.9" width="276" height="12.9" fill="#fff"/>
<rect x="444.9" y="628.9" width="1" height="14.9"/>
<rect x="437" y="631.7" width="8.4" height="1"/>
<rect x="437" y="638.2" width="8.4" height="1"/>
<rect x="447.2" y="628.9" width="1.9" height="14.9"/>
<rect x="445.9" y="630.8" width="1.3" height="1"/>
<rect x="449" y="630.8" width="10" height="1"/>
<rect x="449" y="630.8" width="1" height="8.8"/>
<rect x="458" y="630.8" width="1" height="8.8"/>
<rect x="456.9" y="638.7" width="2.1" height="0.9"/>
<rect x="450" y="636.9" width="6.9" height="1.1"/>
<rect x="450" y="636.9" width="0.9" height="2.7"/>
<rect x="456" y="636.9" width="0.9" height="6.9"/>
<rect x="707.2" y="628.9" width="1" height="14.9"/>
<rect x="707.6" y="631.7" width="7.4" height="1"/>
<rect x="707.6" y="638.2" width="7.4" height="1"/>
<rect x="703.3" y="628.9" width="2.5" height="14.9"/>
<rect x="705.8" y="630.8" width="1.4" height="1"/>
<rect x="694.1" y="631.8" width="9.9" height="1"/>
<rect x="694.1" y="631.8" width="1" height="7.8"/>
<rect x="694.1" y="638.7" width="2.9" height="0.9"/>
<rect x="696.1" y="636.9" width="6" height="1.1"/>
<rect x="696.1" y="636.9" width="0.9" height="6.9"/>
<rect x="701.2" y="636.9" width="0.9" height="2.7"/>
<rect x="701.2" y="638.7" width="2.8" height="0.9"/>
<rect x="460.1" y="630.8" width="112" height="6.6"/>
<rect x="461.05" y="636.9" width="109.95" height="4.8"/>
<line x1="461.6" y1="634.6" x2="571.1" y2="634.6" stroke="#fff" stroke-width="3.8" stroke-dasharray="1 1.66"/>
<rect x="579.9" y="630.8" width="111.8" height="6.6"/>
<rect x="581" y="636.9" width="109.8" height="4.8"/>
<line x1="581.4" y1="634.6" x2="690.7" y2="634.6" stroke="#fff" stroke-width="3.8" stroke-dasharray="1 1.66"/>
</g>
<g>
<rect x="437" y="647.2" width="278" height="15.8"/>
<rect x="438" y="648.2" width="276" height="13.8" fill="#fff"/>
<rect x="444.9" y="647.2" width="1" height="15.8"/>
<rect x="437" y="650" width="8.4" height="1"/>
<rect x="437" y="656.5" width="8.4" height="1"/>
<rect x="447.2" y="647.2" width="1.9" height="15.8"/>
<rect x="445.9" y="649.1" width="1.3" height="1"/>
<rect x="449" y="649.1" width="10" height="1"/>
<rect x="449" y="649.1" width="1" height="8.8"/>
<rect x="458" y="649.1" width="1" height="8.8"/>
<rect x="456.9" y="657" width="2.1" height="0.9"/>
<rect x="450" y="655.2" width="6.9" height="1.1"/>
<rect x="450" y="655.2" width="0.9" height="2.7"/>
<rect x="456" y="655.2" width="0.9" height="7.8"/>
<rect x="707.2" y="647.2" width="1" height="15.8"/>
<rect x="707.6" y="650" width="7.4" height="1"/>
<rect x="707.6" y="656.5" width="7.4" height="1"/>
<rect x="703.3" y="647.2" width="2.5" height="15.8"/>
<rect x="705.8" y="649.1" width="1.4" height="1"/>
<rect x="694.1" y="650.1" width="9.9" height="1"/>
<rect x="694.1" y="650.1" width="1" height="7.8"/>
<rect x="694.1" y="657" width="2.9" height="0.9"/>
<rect x="696.1" y="655.2" width="6" height="1.1"/>
<rect x="696.1" y="655.2" width="0.9" height="7.8"/>
<rect x="701.2" y="655.2" width="0.9" height="2.7"/>
<rect x="701.2" y="657" width="2.8" height="0.9"/>
<rect x="460.1" y="649.1" width="112" height="6.6"/>
<rect x="461.05" y="655.2" width="109.95" height="5.7"/>
<line x1="461.6" y1="652.9" x2="571.1" y2="652.9" stroke="#fff" stroke-width="3.8" stroke-dasharray="1 1.66"/>
<rect x="579.9" y="649.1" width="111.8" height="6.6"/>
<rect x="581" y="655.2" width="109.8" height="5.7"/>
<line x1="581.4" y1="652.9" x2="690.7" y2="652.9" stroke="#fff" stroke-width="3.8" stroke-dasharray="1 1.66"/>
</g>
<g>
<rect x="437" y="664" width="278" height="14.9"/>
<rect x="438" y="665" width="276" height="12.9" fill="#fff"/>
<rect x="444.9" y="664" width="1" height="14.9"/>
<rect x="437" y="666.8" width="8.4" height="1"/>
<rect x="437" y="673.3" width="8.4" height="1"/>
<rect x="447.2" y="664" width="1.9" height="14.9"/>
<rect x="445.9" y="665.9" width="1.3" height="1"/>
<rect x="449" y="665.9" width="10" height="1"/>
<rect x="449" y="665.9" width="1" height="8.8"/>
<rect x="458" y="665.9" width="1" height="8.8"/>
<rect x="456.9" y="673.8" width="2.1" height="0.9"/>
<rect x="450" y="672" width="6.9" height="1.1"/>
<rect x="450" y="672" width="0.9" height="2.7"/>
<rect x="456" y="672" width="0.9" height="6.9"/>
<rect x="707.2" y="664" width="1" height="14.9"/>
<rect x="707.6" y="666.8" width="7.4" height="1"/>
<rect x="707.6" y="673.3" width="7.4" height="1"/>
<rect x="703.3" y="664" width="2.5" height="14.9"/>
<rect x="705.8" y="665.9" width="1.4" height="1"/>
<rect x="694.1" y="666.9" width="9.9" height="1"/>
<rect x="694.1" y="666.9" width="1" height="7.8"/>
<rect x="694.1" y="673.8" width="2.9" height="0.9"/>
<rect x="696.1" y="672" width="6" height="1.1"/>
<rect x="696.1" y="672" width="0.9" height="6.9"/>
<rect x="701.2" y="672" width="0.9" height="2.7"/>
<rect x="701.2" y="673.8" width="2.8" height="0.9"/>
<rect x="460.1" y="665.9" width="112" height="6.6"/>
<rect x="461.05" y="672" width="109.95" height="4.8"/>
<line x1="461.6" y1="669.7" x2="571.1" y2="669.7" stroke="#fff" stroke-width="3.8" stroke-dasharray="1 1.66"/>
<rect x="579.9" y="665.9" width="111.8" height="6.6"/>
<rect x="581" y="672" width="109.8" height="4.8"/>
<line x1="581.4" y1="669.7" x2="690.7" y2="669.7" stroke="#fff" stroke-width="3.8" stroke-dasharray="1 1.66"/>
</g>
<g>
<rect x="437" y="682.3" width="278" height="15.5"/>
<rect x="438" y="683.3" width="276" height="13.5" fill="#fff"/>
<rect x="444.9" y="682.3" width="1" height="15.5"/>
<rect x="437" y="685.1" width="8.4" height="1"/>
<rect x="437" y="691.6" width="8.4" height="1"/>
<rect x="447.2" y="682.3" width="1.9" height="15.5"/>
<rect x="445.9" y="684.2" width="1.3" height="1"/>
<rect x="449" y="684.2" width="10" height="1"/>
<rect x="449" y="684.2" width="1" height="8.8"/>
<rect x="458" y="684.2" width="1" height="8.8"/>
<rect x="456.9" y="692.1" width="2.1" height="0.9"/>
<rect x="450" y="690.3" width="6.9" height="1.1"/>
<rect x="450" y="690.3" width="0.9" height="2.7"/>
<rect x="456" y="690.3" width="0.9" height="7.5"/>
<rect x="707.2" y="682.3" width="1" height="15.5"/>
<rect x="707.6" y="685.1" width="7.4" height="1"/>
<rect x="707.6" y="691.6" width="7.4" height="1"/>
<rect x="703.3" y="682.3" width="2.5" height="15.5"/>
<rect x="705.8" y="684.2" width="1.4" height="1"/>
<rect x="694.1" y="685.2" width="9.9" height="1"/>
<rect x="694.1" y="685.2" width="1" height="7.8"/>
<rect x="694.1" y="692.1" width="2.9" height="0.9"/>
<rect x="696.1" y="690.3" width="6" height="1.1"/>
<rect x="696.1" y="690.3" width="0.9" height="7.5"/>
<rect x="701.2" y="690.3" width="0.9" height="2.7"/>
<rect x="701.2" y="692.1" width="2.8" height="0.9"/>
<rect x="460.1" y="684.2" width="112" height="6.6"/>
<rect x="461.05" y="690.3" width="109.95" height="5.4"/>
<line x1="461.6" y1="688" x2="571.1" y2="688" stroke="#fff" stroke-width="3.8" stroke-dasharray="1 1.66"/>
<rect x="579.9" y="684.2" width="111.8" height="6.6"/>
<rect x="581" y="690.3" width="109.8" height="5.4"/>
<line x1="581.4" y1="688" x2="690.7" y2="688" stroke="#fff" stroke-width="3.8" stroke-dasharray="1 1.66"/>
</g>
<rect x="527.8" y="264" width="7.2" height="25.9"/>
<rect x="528.8" y="265" width="5.2" height="23.8" fill="#fff"/>
<rect x="530.1" y="266" width="4.4" height="4"/>
<rect x="530.1" y="271" width="4.4" height="5"/>
<rect x="530.1" y="277" width="4.4" height="4.8"/>
<rect x="530.1" y="282.8" width="4.4" height="4.8"/>
<polygon class="aa" points="511,271.7 516.1,272.98 522.9,274.07 528,274.9 528,276.1 522.9,276.81 516.1,277.74 511,278.9"/>
<rect x="476.9" y="265.9" width="36.1" height="19.2" rx="3.6" class="aa"/>
<rect x="478.9" y="267.9" width="32.1" height="14.8" fill="#fff" rx="1.9" class="aa"/>
<polygon class="aa" fill="#fff" points="510.4,274 518.65,275.14 518.65,275.64 510.4,276.6"/>
<text transform="translate(483.9 278.6) scale(0.82 1)" x="0 13.78 23.41" font-size="13" text-anchor="middle">CN1</text>
<rect x="685.1" y="331.9" width="7" height="25.9"/>
<rect x="686" y="332.9" width="5.1" height="23.9" fill="#fff"/>
<rect x="685.5" y="333.8" width="4.3" height="3.8"/>
<rect x="685.5" y="339.7" width="4.3" height="3.9"/>
<rect x="685.5" y="345.7" width="4.3" height="4.1"/>
<rect x="685.5" y="351.6" width="4.3" height="4"/>
<polygon class="aa" points="668,341.2 673.19,342.43 680.11,343.42 685.3,344.2 685.3,345.4 680.11,346.24 673.19,347.31 668,348.6"/>
<rect x="634.1" y="335.9" width="35.9" height="18.9" rx="3.6" class="aa"/>
<rect x="636.1" y="337.9" width="31.9" height="14.5" fill="#fff" rx="1.9" class="aa"/>
<polygon class="aa" fill="#fff" points="667.4,343.5 675.78,344.61 675.78,345.11 667.4,346.3"/>
<text transform="translate(640.9 348.6) scale(0.82 1)" x="0 12.32 22.93" font-size="13" text-anchor="middle">CN5</text>
<rect x="540.8" y="337.9" width="13.2" height="101.9"/>
<rect x="541.8" y="338.55" width="11.3" height="1.1" fill="#fff"/>
<rect x="541.8" y="344.42" width="11.3" height="1.1" fill="#fff"/>
<rect x="541.8" y="350.29" width="11.3" height="1.1" fill="#fff"/>
<rect x="541.8" y="356.16" width="11.3" height="1.1" fill="#fff"/>
<rect x="541.8" y="362.03" width="11.3" height="1.1" fill="#fff"/>
<rect x="541.8" y="367.9" width="11.3" height="1.1" fill="#fff"/>
<rect x="541.8" y="373.77" width="11.3" height="1.1" fill="#fff"/>
<rect x="541.8" y="379.64" width="11.3" height="1.1" fill="#fff"/>
<rect x="541.8" y="385.51" width="11.3" height="1.1" fill="#fff"/>
<rect x="541.8" y="391.38" width="11.3" height="1.1" fill="#fff"/>
<rect x="541.8" y="397.25" width="11.3" height="1.1" fill="#fff"/>
<rect x="541.8" y="403.12" width="11.3" height="1.1" fill="#fff"/>
<rect x="541.8" y="408.99" width="11.3" height="1.1" fill="#fff"/>
<rect x="541.8" y="414.86" width="11.3" height="1.1" fill="#fff"/>
<rect x="541.8" y="420.73" width="11.3" height="1.1" fill="#fff"/>
<rect x="541.8" y="426.6" width="11.3" height="1.1" fill="#fff"/>
<rect x="541.8" y="432.47" width="11.3" height="1.1" fill="#fff"/>
<rect x="541.8" y="438.34" width="11.3" height="1.1" fill="#fff"/>
<rect x="546.85" y="338.8" width="1.1" height="100.1" fill="#fff"/>
<rect x="552.05" y="338.8" width="1.1" height="100.1" fill="#fff"/>
<rect x="542.9" y="340.9" width="3" height="2.4" fill="#fff"/>
<polygon class="aa" points="524,374.5 529.16,376 536.04,377.35 541.2,378.4 541.2,379.6 536.04,380.17 529.16,380.88 524,381.9"/>
<rect x="490.1" y="369.1" width="35.9" height="18.8" rx="3.6" class="aa"/>
<rect x="492.1" y="371.1" width="31.9" height="14.4" fill="#fff" rx="1.9" class="aa"/>
<polygon class="aa" fill="#fff" points="523.4,376.8 531.74,378.31 531.74,378.81 523.4,379.6"/>
<text transform="translate(497.8 382.7) scale(0.82 1)" x="0 12.93 21.95" font-size="13" text-anchor="middle">CN3</text>
<rect x="564.1" y="339" width="12.1" height="119"/>
<rect x="565.1" y="344.95" width="10" height="1.1" fill="#fff"/>
<rect x="565.1" y="350.8" width="10" height="1.1" fill="#fff"/>
<rect x="565.1" y="356.65" width="10" height="1.1" fill="#fff"/>
<rect x="565.1" y="362.5" width="10" height="1.1" fill="#fff"/>
<rect x="565.1" y="368.35" width="10" height="1.1" fill="#fff"/>
<rect x="565.1" y="374.2" width="10" height="1.1" fill="#fff"/>
<rect x="565.1" y="380.05" width="10" height="1.1" fill="#fff"/>
<rect x="565.1" y="385.9" width="10" height="1.1" fill="#fff"/>
<rect x="565.1" y="391.75" width="10" height="1.1" fill="#fff"/>
<rect x="565.1" y="397.6" width="10" height="1.1" fill="#fff"/>
<rect x="565.1" y="403.45" width="10" height="1.1" fill="#fff"/>
<rect x="565.1" y="409.3" width="10" height="1.1" fill="#fff"/>
<rect x="565.1" y="415.15" width="10" height="1.1" fill="#fff"/>
<rect x="565.1" y="421" width="10" height="1.1" fill="#fff"/>
<rect x="565.1" y="426.85" width="10" height="1.1" fill="#fff"/>
<rect x="565.1" y="432.7" width="10" height="1.1" fill="#fff"/>
<rect x="565.1" y="438.55" width="10" height="1.1" fill="#fff"/>
<rect x="565.1" y="444.4" width="10" height="1.1" fill="#fff"/>
<rect x="565.1" y="450.25" width="10" height="1.1" fill="#fff"/>
<rect x="565.1" y="456.1" width="10" height="1.1" fill="#fff"/>
<rect x="570.05" y="340" width="1.1" height="117" fill="#fff"/>
<rect x="565.9" y="340.9" width="3" height="3" fill="#fff"/>
<polygon class="aa" points="593.9,377 592.84,378.27 589.15,379.37 583.34,380.3 576.3,381 576.3,382.4 583.34,383.5 589.15,384.76 592.84,386.07 593.9,387.4"/>
<rect x="591.9" y="373.1" width="34.9" height="17.6" rx="0.6" class="aa"/>
<rect x="593.9" y="375.1" width="31.2" height="13.6" fill="#fff" class="aa"/>
<polygon class="aa" fill="#fff" points="594.5,379.9 585.98,381.72 585.98,382.22 594.5,384.5"/>
<text transform="translate(600 385.6) scale(0.82 1)" x="0 13.54 22.32" font-size="13" text-anchor="middle">CN2</text>
<rect x="683" y="262.1" width="78" height="12.8"/>
<rect x="684" y="263.1" width="76" height="10.8" fill="#fff"/>
<rect x="685.1" y="264.2" width="4" height="3.8"/>
<rect x="685.1" y="269.9" width="4" height="4.6"/>
<rect x="690.95" y="264.2" width="4" height="3.8"/>
<rect x="690.95" y="269.9" width="4" height="4.6"/>
<rect x="696.8" y="264.2" width="4" height="3.8"/>
<rect x="696.8" y="269.9" width="4" height="4.6"/>
<rect x="702.65" y="264.2" width="4" height="3.8"/>
<rect x="702.65" y="269.9" width="4" height="4.6"/>
<rect x="708.5" y="264.2" width="4" height="3.8"/>
<rect x="708.5" y="269.9" width="4" height="4.6"/>
<rect x="714.35" y="264.2" width="4" height="3.8"/>
<rect x="714.35" y="269.9" width="4" height="4.6"/>
<rect x="720.2" y="264.2" width="4" height="3.8"/>
<rect x="720.2" y="269.9" width="4" height="4.6"/>
<rect x="726.05" y="264.2" width="4" height="3.8"/>
<rect x="726.05" y="269.9" width="4" height="4.6"/>
<rect x="731.9" y="264.2" width="4" height="3.8"/>
<rect x="731.9" y="269.9" width="4" height="4.6"/>
<rect x="737.75" y="264.2" width="4" height="3.8"/>
<rect x="737.75" y="269.9" width="4" height="4.6"/>
<rect x="743.6" y="264.2" width="4" height="3.8"/>
<rect x="743.6" y="269.9" width="4" height="4.6"/>
<rect x="749.45" y="264.2" width="4" height="3.8"/>
<rect x="749.45" y="269.9" width="4" height="4.6"/>
<rect x="755.3" y="264.2" width="4" height="3.8"/>
<rect x="755.3" y="269.9" width="4" height="4.6"/>
<rect x="686.1" y="270.8" width="2.1" height="2.1" fill="#fff"/>
<polygon class="aa" points="703.1,295 704.1,292.01 705.15,287.52 705.8,281.54 706.2,276.3 707.2,276.3 707.6,281.54 708.25,287.52 709.3,292.01 710.3,295"/>
<rect x="689.2" y="293" width="33.8" height="18.7" rx="3.6" class="aa"/>
<rect x="691.2" y="295" width="29.5" height="13.8" fill="#fff" rx="1.9" class="aa"/>
<polygon class="aa" fill="#fff" points="705.4,295.6 706.45,291.26 706.95,291.26 708,295.6"/>
<text transform="translate(696.1 306) scale(0.82 1)" x="0 12.07 22.68" font-size="13" text-anchor="middle">CN9</text>
<rect x="685.9" y="380.9" width="24.1" height="111.9"/>
<rect x="686.9" y="381.9" width="22.1" height="109.9" fill="#fff"/>
<rect x="689" y="381" width="8.5" height="2.8"/>
<rect x="690" y="381.9" width="1.4" height="1.1" fill="#fff"/>
<rect x="694.8" y="381.9" width="1.4" height="1.1" fill="#fff"/>
<rect x="689" y="489.8" width="8" height="2.8"/>
<rect x="690" y="490.6" width="1.4" height="1.2" fill="#fff"/>
<rect x="694.6" y="490.6" width="1.4" height="1.2" fill="#fff"/>
<rect x="689" y="385.9" width="7.9" height="8"/>
<rect x="690" y="386.9" width="5.9" height="6" fill="#fff"/>
<rect x="689" y="396" width="7.9" height="7.5"/>
<rect x="690" y="397" width="5.9" height="5.5" fill="#fff"/>
<rect x="689" y="406.2" width="7.9" height="6.3"/>
<rect x="690" y="407.2" width="5.9" height="4.3" fill="#fff"/>
<rect x="689" y="415.2" width="7.9" height="6.3"/>
<rect x="690" y="416.2" width="5.9" height="4.3" fill="#fff"/>
<rect x="689" y="424.4" width="7.9" height="6.7"/>
<rect x="690" y="425.4" width="5.9" height="4.7" fill="#fff"/>
<rect x="689" y="433.5" width="7.9" height="6.5"/>
<rect x="690" y="434.5" width="5.9" height="4.5" fill="#fff"/>
<rect x="689" y="442.2" width="7.9" height="7.3"/>
<rect x="690" y="443.2" width="5.9" height="5.3" fill="#fff"/>
<rect x="689" y="452.3" width="7.9" height="6.5"/>
<rect x="690" y="453.3" width="5.9" height="4.5" fill="#fff"/>
<rect x="689" y="461" width="7.9" height="6.9"/>
<rect x="690" y="462" width="5.9" height="4.9" fill="#fff"/>
<rect x="689" y="470.1" width="7.9" height="6.8"/>
<rect x="690" y="471.1" width="5.9" height="4.8" fill="#fff"/>
<rect x="689" y="479.9" width="7.9" height="8.2"/>
<rect x="690" y="480.9" width="5.9" height="6.2" fill="#fff"/>
<rect x="698" y="382.6" width="1.7" height="6.5"/>
<rect x="704" y="382.6" width="3" height="6.6"/>
<rect x="705" y="383.6" width="1" height="4.6" fill="#fff"/>
<rect x="702.6" y="384" width="1.6" height="3.4"/>
<rect x="698" y="392.3" width="1.7" height="6.5"/>
<rect x="704" y="392.3" width="3" height="6.6"/>
<rect x="705" y="393.3" width="1" height="4.6" fill="#fff"/>
<rect x="702.6" y="393.7" width="1.6" height="3.4"/>
<rect x="698" y="401.5" width="1.7" height="6.5"/>
<rect x="704" y="401.5" width="3" height="6.6"/>
<rect x="705" y="402.5" width="1" height="4.6" fill="#fff"/>
<rect x="702.6" y="402.9" width="1.6" height="3.4"/>
<rect x="698" y="410.5" width="1.7" height="6.5"/>
<rect x="704" y="410.5" width="3" height="6.6"/>
<rect x="705" y="411.5" width="1" height="4.6" fill="#fff"/>
<rect x="702.6" y="411.9" width="1.6" height="3.4"/>
<rect x="698" y="419.5" width="1.7" height="6.5"/>
<rect x="704" y="419.5" width="3" height="6.6"/>
<rect x="705" y="420.5" width="1" height="4.6" fill="#fff"/>
<rect x="702.6" y="420.9" width="1.6" height="3.4"/>
<rect x="698" y="428.5" width="1.7" height="6.5"/>
<rect x="704" y="428.5" width="3" height="6.6"/>
<rect x="705" y="429.5" width="1" height="4.6" fill="#fff"/>
<rect x="702.6" y="429.9" width="1.6" height="3.4"/>
<rect x="698" y="438" width="1.7" height="6.5"/>
<rect x="704" y="438" width="3" height="6.6"/>
<rect x="705" y="439" width="1" height="4.6" fill="#fff"/>
<rect x="702.6" y="439.4" width="1.6" height="3.4"/>
<rect x="698" y="447.1" width="1.7" height="6.5"/>
<rect x="704" y="447.1" width="3" height="6.6"/>
<rect x="705" y="448.1" width="1" height="4.6" fill="#fff"/>
<rect x="702.6" y="448.5" width="1.6" height="3.4"/>
<rect x="698" y="456.1" width="1.7" height="6.5"/>
<rect x="704" y="456.1" width="3" height="6.6"/>
<rect x="705" y="457.1" width="1" height="4.6" fill="#fff"/>
<rect x="702.6" y="457.5" width="1.6" height="3.4"/>
<rect x="698" y="465.1" width="1.7" height="6.5"/>
<rect x="704" y="465.1" width="3" height="6.6"/>
<rect x="705" y="466.1" width="1" height="4.6" fill="#fff"/>
<rect x="702.6" y="466.5" width="1.6" height="3.4"/>
<rect x="698" y="475.2" width="1.7" height="6.5"/>
<rect x="704" y="475.2" width="3" height="6.6"/>
<rect x="705" y="476.2" width="1" height="4.6" fill="#fff"/>
<rect x="702.6" y="476.6" width="1.6" height="3.4"/>
<rect x="698" y="484.3" width="1.7" height="6.5"/>
<rect x="704" y="484.3" width="3" height="6.6"/>
<rect x="705" y="485.3" width="1" height="4.6" fill="#fff"/>
<rect x="702.6" y="485.7" width="1.6" height="3.4"/>
<rect x="701.6" y="381" width="1.1" height="111.8"/>
<rect x="719.2" y="515.1" width="31.8" height="18.7"/>
<rect x="720.2" y="516.1" width="29.8" height="16.7" fill="#fff"/>
<rect x="724.1" y="519.5" width="5.7" height="10.4"/>
<rect x="731.2" y="519.5" width="5.8" height="10.4"/>
<rect x="739.4" y="519.5" width="5.6" height="10.4"/>
<rect x="740.4" y="520.5" width="3.6" height="8.4" fill="#fff"/>
<rect x="744.9" y="527.9" width="5" height="4.8"/>
<rect x="745.9" y="528.9" width="3" height="2.8" fill="#fff"/>
<polygon class="aa" points="733.35,552.9 733.62,546.09 734.56,540.02 735.05,534.5 736.15,534.5 736.86,540.02 738.02,546.09 738.55,552.9"/>
<rect x="720.2" y="550.9" width="33.4" height="18.7" rx="2" class="aa"/>
<rect x="722.2" y="552.9" width="29.4" height="14.1" fill="#fff" rx="0.3" class="aa"/>
<polygon class="aa" fill="#fff" points="735.25,553.5 735.57,546.09 736.07,546.09 736.65,553.5"/>
<text transform="translate(727.1 564.6) scale(0.82 1)" x="0 9.88 20.98" font-size="13" text-anchor="middle">SW2</text>
<rect x="813.8" y="245" width="28.1" height="79.8"/>
<rect x="843.3" y="245" width="14.9" height="79.7"/>
<rect x="844.3" y="246" width="12.9" height="77.7" fill="#fff"/>
<rect x="833.8" y="237.9" width="19.3" height="6"/>
<rect x="834.9" y="239" width="17.1" height="3.8" fill="#fff"/>
<rect x="833.1" y="327" width="18.9" height="5.8"/>
<rect x="834.2" y="328.1" width="16.7" height="3.6" fill="#fff"/>
<rect x="838.2" y="234" width="6.7" height="99"/>
<rect x="841.8" y="237" width="1.5" height="95.8" fill="#fff"/>
<polygon class="aa" points="798.9,301.7 801.92,302.84 806.45,304.05 810.98,305.16 814,305.95 814,307.05 810.98,307.76 806.45,308.75 801.92,309.84 798.9,310.9"/>
<rect x="765.1" y="297" width="35.8" height="19" rx="3.6" class="aa"/>
<rect x="767.1" y="299" width="31.8" height="14.6" fill="#fff" rx="1.9" class="aa"/>
<polygon class="aa" fill="#fff" points="798.3,304.4 809.47,306.19 809.47,306.69 798.3,308.2"/>
<text transform="translate(772.9 310) scale(0.82 1)" x="0 12.07 22.8" font-size="13" text-anchor="middle">CN6</text>
<rect x="811.1" y="343.9" width="33.8" height="44.5"/>
<path d="M844 345.2 H860.2 L862.1 347.1 V385.3 L860.2 387.2 H844 Z"/>
<path d="M844.9 346.3 H859.8 L861.0 347.5 V384.9 L859.8 386.1 H844.9 Z" fill="#fff"/>
<rect x="811.1" y="406.1" width="33.8" height="44.7"/>
<path d="M844 407.4 H860.2 L862.1 409.3 V447.7 L860.2 449.6 H844 Z"/>
<path d="M844.9 408.5 H859.8 L861.0 409.7 V447.3 L859.8 448.5 H844.9 Z" fill="#fff"/>
<rect x="836" y="337.2" width="18.9" height="5.7"/>
<rect x="837.1" y="338.3" width="16.7" height="3.5" fill="#fff"/>
<rect x="836" y="391.2" width="18.9" height="5.7"/>
<rect x="837.1" y="392.3" width="16.7" height="3.5" fill="#fff"/>
<rect x="836" y="399.3" width="18.9" height="5.7"/>
<rect x="837.1" y="400.4" width="16.7" height="3.5" fill="#fff"/>
<rect x="836" y="452.9" width="18.9" height="5.7"/>
<rect x="837.1" y="454" width="16.7" height="3.5" fill="#fff"/>
<rect x="838.2" y="332" width="6.7" height="130.9"/>
<polygon class="aa" points="792,363.8 797.37,364.99 804.53,365.97 809.9,366.7 809.9,367.9 804.53,368.63 797.37,369.61 792,370.8"/>
<rect x="757.9" y="358.1" width="36" height="18.7" rx="3.6" class="aa"/>
<rect x="760.9" y="360.3" width="31.1" height="14.5" fill="#fff" rx="1.9" class="aa"/>
<polygon class="aa" fill="#fff" points="791.4,366.1 800.05,367.05 800.05,367.55 791.4,368.5"/>
<text transform="translate(766.8 371.7) scale(0.82 1)" x="0 12.32 22.93" font-size="13" text-anchor="middle">CN7</text>
<polygon class="aa" points="793,426.2 798.07,427.4 804.83,428.35 809.9,429.1 809.9,430.3 804.83,431.17 798.07,432.28 793,433.6"/>
<rect x="759.1" y="420.9" width="35.9" height="18" rx="3.6" class="aa"/>
<rect x="761.1" y="422.9" width="31.9" height="13.6" fill="#fff" rx="1.9" class="aa"/>
<polygon class="aa" fill="#fff" points="792.4,428.5 800.61,429.56 800.61,430.06 792.4,431.3"/>
<text transform="translate(766.8 432.7) scale(0.82 1)" x="0 13.54 23.05" font-size="13" text-anchor="middle">CN8</text>
<rect x="842.9" y="462" width="2" height="11"/>
<rect x="817.1" y="483" width="28.7" height="90.8"/>
<rect x="847.1" y="483" width="15" height="90.8" rx="1.5"/>
<rect x="848.2" y="484.1" width="12.8" height="88.6" fill="#fff" rx="0.4"/>
<rect x="836.9" y="473.8" width="19.1" height="5.9"/>
<rect x="838" y="474.9" width="16.9" height="3.7" fill="#fff"/>
<rect x="836.9" y="576" width="19.1" height="6.9"/>
<rect x="838" y="577.1" width="16.9" height="4.7" fill="#fff"/>
<rect x="842" y="472" width="6" height="111.8"/>
<rect x="845.8" y="473.2" width="1.3" height="100.6" fill="#fff"/>
<polygon class="aa" points="799.1,527.1 801.77,528.48 807.11,529.27 812.45,529.42 816.9,529.7 816.9,532.9 812.45,532.92 807.11,532.77 801.77,533.27 799.1,534.5"/>
<rect x="759.1" y="522" width="42" height="18.8" rx="3.6" class="aa"/>
<rect x="761.1" y="524" width="38" height="14.4" fill="#fff" rx="1.9" class="aa"/>
<polygon class="aa" fill="#fff" points="798.5,529.4 806.58,530.76 806.58,531.26 798.5,532.2"/>
<text transform="translate(765.9 534.8) scale(0.82 1)" x="0 13.41 23.54 32.56" font-size="13" text-anchor="middle">CN10</text>
<rect x="844" y="583" width="2.1" height="143.9"/>
<rect x="825.3" y="593.1" width="20.8" height="16.7"/>
<rect x="827.2" y="595.1" width="17.4" height="13.5" fill="#fff"/>
<rect x="820.3" y="595.1" width="5.7" height="3.6"/>
<rect x="820.3" y="604.9" width="5.7" height="3.1"/>
<rect x="846" y="593.8" width="8.9" height="8.9"/>
<text transform="translate(808.9 596.6) rotate(90) scale(0.82 1)" x="0 10.73" font-size="12" text-anchor="middle">12</text>
<polygon class="aa" points="787.9,598.3 793,599.78 799.8,601.06 804.9,602.1 804.9,603.3 799.8,604.1 793,605.06 787.9,606.3"/>
<rect x="754.1" y="593.5" width="35.8" height="18.3" rx="3.6" class="aa"/>
<rect x="756.1" y="595.5" width="31.8" height="13.9" fill="#fff" rx="1.9" class="aa"/>
<polygon class="aa" fill="#fff" points="787.3,600.6 797.76,602.28 797.76,602.78 787.3,604"/>
<text transform="translate(760.8 606.1) scale(0.82 1)" x="0 10.49 24.02" font-size="13" text-anchor="middle">SW1</text>
<rect x="814.9" y="626.9" width="30.1" height="37.8"/>
<rect x="839.1" y="622.9" width="5.9" height="45.8"/>
<rect x="841.1" y="620.8" width="3.9" height="50.1"/>
<rect x="812" y="633.8" width="3" height="24"/>
<rect x="808" y="636" width="4.6" height="8.7"/>
<rect x="809" y="637" width="2.6" height="6.7" fill="#fff"/>
<rect x="808" y="647.2" width="4.6" height="8.9"/>
<rect x="809" y="648.2" width="2.6" height="6.9" fill="#fff"/>
<rect x="812.9" y="642.9" width="2" height="5.1" fill="#fff"/>
<rect x="806" y="676" width="34" height="39.8"/>
<rect x="807" y="677" width="32" height="37.8" fill="#fff"/>
<rect x="839.1" y="676" width="7" height="39.8"/>
</svg>
</body></html>
